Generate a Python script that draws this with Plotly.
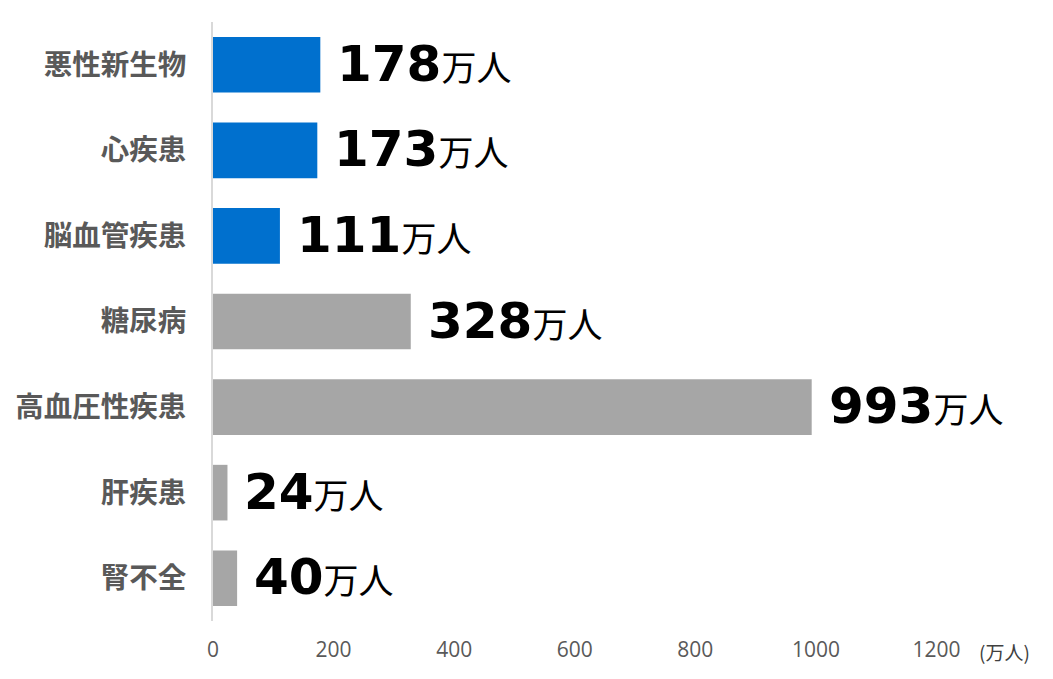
import plotly.graph_objects as go

categories = ["悪性新生物", "心疾患", "脳血管疾患", "糖尿病", "高血圧性疾患", "肝疾患", "腎不全"]
values = [178, 173, 111, 328, 993, 24, 40]
bar_colors = ["#0070CE", "#0070CE", "#0070CE", "#A6A6A6", "#A6A6A6", "#A6A6A6", "#A6A6A6"]
tick_vals = [0, 200, 400, 600, 800, 1000, 1200]
tick_text = ["0", "200", "400", "600", "800", "1000", "1200"]
unit_label = "万人"
axis_unit = "(万人)"

fig = go.Figure()
fig.add_trace(go.Bar(
    x=values, y=categories, orientation="h",
    marker=dict(color=bar_colors, line=dict(width=0)),
    hoverinfo="skip",
))

for cat, v in zip(categories, values):
    fig.add_annotation(
        x=v, y=cat, xref="x", yref="y",
        xanchor="left", yanchor="middle", xshift=15, yshift=1,
        showarrow=False,
        text=f"<b>{v}</b><span style=\"font-family:'Noto Sans CJK JP';font-size:35px\">{unit_label}</span>",
        font=dict(family="DejaVu Sans", size=50, color="#000000"),
    )

fig.add_annotation(
    x=1313, y=0, xref="x", yref="paper",
    xanchor="center", yanchor="top", yshift=-15,
    showarrow=False, text=axis_unit,
    font=dict(family="Noto Sans CJK JP", size=19, color="#404040"),
)

fig.update_layout(
    width=1045, height=671,
    margin=dict(l=205, r=14, t=14, b=58),
    paper_bgcolor="white", plot_bgcolor="white",
    showlegend=False,
    bargap=0.35,
    xaxis=dict(
        range=[0, 1370], tickvals=tick_vals, ticktext=tick_text,
        showgrid=False, zeroline=False, showline=False, ticks="",
        tickfont=dict(family="Open Sans", size=21, color="#595959"),
        ticklabelstandoff=14, automargin=False,
    ),
    yaxis=dict(
        autorange="reversed", showgrid=False, zeroline=False,
        showline=True, linecolor="#D9D9D9", linewidth=2, ticks="",
        tickfont=dict(family="Noto Sans CJK JP", size=28.5, color="#595959", weight="bold"),
        ticklabelstandoff=19, automargin=False,
    ),
)

fig.write_html("out.html")
